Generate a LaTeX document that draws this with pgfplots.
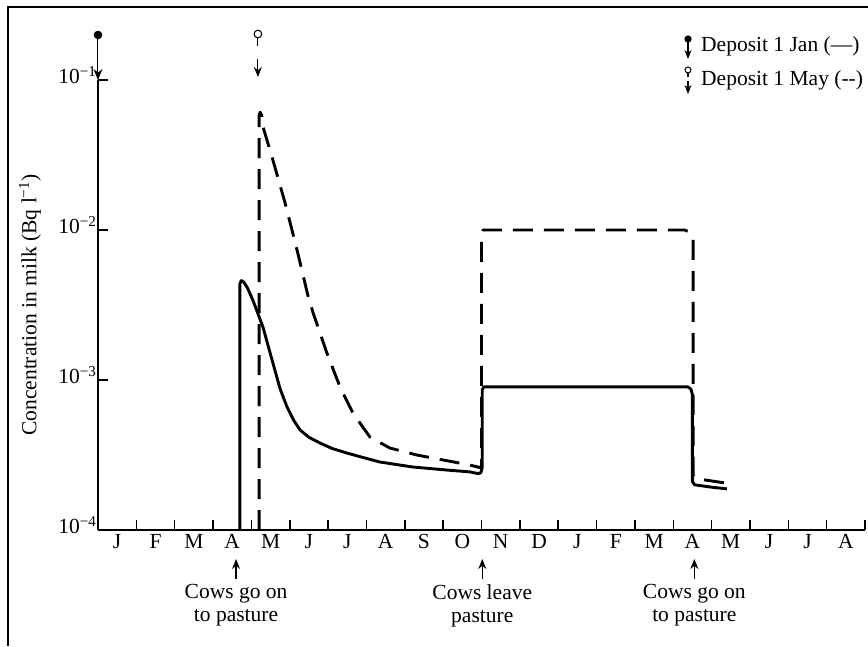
\documentclass[border=0pt]{standalone}
\usepackage{pgfplots}
\pgfplotsset{compat=1.18}
\usepackage{fontspec}
\setmainfont{Liberation Serif}
\usetikzlibrary{arrows.meta}
\newcommand\sz{\fontsize{21.5}{23}\selectfont}
\begin{document}
\begin{tikzpicture}[x=1pt,y=1pt]
\path[use as bounding box] (0,0) rectangle (868,646);
\draw[line width=1.3pt] (8,0) -- (8,639) -- (868,639);
\begin{axis}[
  at={(98pt,116pt)}, anchor=south west,
  scale only axis, width=767pt, height=450pt,
  xmin=0, xmax=20, ymode=log, ymin=1e-4, ymax=1e-1,
  axis x line=bottom, axis y line=left,
  axis line style={-, line width=2.2pt},
  clip=false,
  tick align=inside,
  xtick={0.5,1.5,...,19.5},
  xticklabels={J,F,M,A,M,J,J,A,S,O,N,D,J,F,M,A,M,J,J,A},
  major x tick style={draw=none},
  minor xtick={1,...,20},
  minor tick length=10pt,
  minor x tick style={line width=1.5pt, black},
  ytick={1e-4,1e-3,1e-2,1e-1},
  yticklabels={10\textsuperscript{−4},10\textsuperscript{−3},10\textsuperscript{−2},10\textsuperscript{−1}},
  minor y tick style={draw=none},
  major tick length=10pt,
  y tick style={line width=1.5pt, black},
  yticklabel style={font=\sz, yshift=5pt, xshift=2pt},
  xticklabel style={font=\sz, yshift=-1pt},
  ylabel={Concentration in milk (Bq l\textsuperscript{−1})},
  ylabel style={font=\sz, at={(axis description cs:-0.0887,0.5)}, anchor=center},
]
\addplot[black, line width=2.9pt, line join=round] coordinates {
(3.70,1e-4) (3.70,4.4e-3) (3.74,4.6e-3) (3.80,4.5e-3) (3.90,4.1e-3) (4.04,3.4e-3)
(4.30,2.26e-3) (4.56,1.30e-3) (4.75,8.7e-4) (4.93,6.6e-4) (5.10,5.4e-4)
(5.27,4.64e-4) (5.50,4.15e-4) (5.79,3.80e-4) (6.10,3.5e-4) (6.49,3.26e-4)
(6.90,3.05e-4) (7.35,2.84e-4) (8.21,2.63e-4) (9.10,2.51e-4) (9.70,2.44e-4)
(9.90,2.38e-4) (9.98,2.40e-4) (10.02,2.6e-4) (10.02,8.6e-4) (10.06,9e-4)
(15.38,9e-4) (15.46,8.7e-4) (15.50,8.0e-4) (15.50,2.1e-4) (15.56,2.0e-4)
(16.0,1.93e-4) (16.4,1.88e-4)
};
\addplot[black, line width=2.9pt, dash pattern=on 20pt off 11pt, line join=round] coordinates {
(4.20,1e-4) (4.20,5.8e-2) (4.23,6.1e-2) (4.27,5.8e-2) (4.30,4.9e-2)
(4.56,2.93e-2) (4.88,1.51e-2) (5.19,7.36e-3) (5.48,3.6e-3) (5.61,2.8e-3)
(5.97,1.51e-3) (6.31,9.0e-4) (6.65,6.0e-4) (7.09,4.17e-4) (7.61,3.52e-4)
(8.32,3.16e-4) (9.00,2.93e-4) (9.70,2.71e-4) (9.98,2.6e-4) (10.0,2.7e-4)
(10.0,9.5e-3) (10.04,1e-2) (15.3,1e-2) (15.45,9.6e-3) (15.52,8.8e-3)
(15.52,2.3e-4) (15.6,2.2e-4) (16.4,2.05e-4)
};
% deposit markers
\fill ([yshift=45pt]axis cs:0,1e-1) circle (4.3pt);
\draw[line width=1pt, -{Stealth[length=11pt,width=9pt]}] ([yshift=42pt]axis cs:0,1e-1) -- ([yshift=0pt]axis cs:0,1e-1);
\draw[line width=1.1pt] ([yshift=46pt]axis cs:4.17,1e-1) circle (3.8pt);
\draw[line width=1.1pt] ([yshift=42pt]axis cs:4.17,1e-1) -- ([yshift=34pt]axis cs:4.17,1e-1);
\draw[line width=1.1pt, -{Stealth[length=10pt,width=8pt]}] ([yshift=21pt]axis cs:4.17,1e-1) -- ([yshift=3pt]axis cs:4.17,1e-1);
% annotations below axis
\draw[line width=1.2pt, -{Stealth[length=10pt,width=8pt]}] ([yshift=-49pt]axis cs:3.6,1e-4) -- ([yshift=-29pt]axis cs:3.6,1e-4);
\node[font=\sz, align=center, anchor=north, inner sep=0pt] at ([yshift=-54pt]axis cs:3.6,1e-4) {Cows go on\\to pasture};
\draw[line width=1.2pt, -{Stealth[length=10pt,width=8pt]}] ([yshift=-49pt]axis cs:10.02,1e-4) -- ([yshift=-29pt]axis cs:10.02,1e-4);
\node[font=\sz, align=center, anchor=north, inner sep=0pt] at ([yshift=-54pt]axis cs:10.02,1e-4) {Cows leave\\pasture};
\draw[line width=1.2pt, -{Stealth[length=10pt,width=8pt]}] ([yshift=-49pt]axis cs:15.55,1e-4) -- ([yshift=-29pt]axis cs:15.55,1e-4);
\node[font=\sz, align=center, anchor=north, inner sep=0pt] at ([yshift=-54pt]axis cs:15.55,1e-4) {Cows go on\\to pasture};
\end{axis}
% legend
\fill (688,646-39) circle (3.6pt);
\draw[line width=1.1pt, -{Stealth[length=9pt,width=7pt]}] (688,646-39) -- (688,646-59);
\node[font=\sz, anchor=west, inner sep=0pt] at (701,646-46) {Deposit 1 Jan (—)};
\draw[line width=1pt] (688,646-70) circle (3pt);
\draw[line width=1.1pt] (688,646-73) -- (688,646-77);
\draw[line width=1.1pt, -{Stealth[length=9pt,width=7pt]}] (688,646-81) -- (688,646-94);
\node[font=\sz, anchor=west, inner sep=0pt] at (701,646-80) {Deposit 1 May (-{}-)};
\end{tikzpicture}
\end{document}
